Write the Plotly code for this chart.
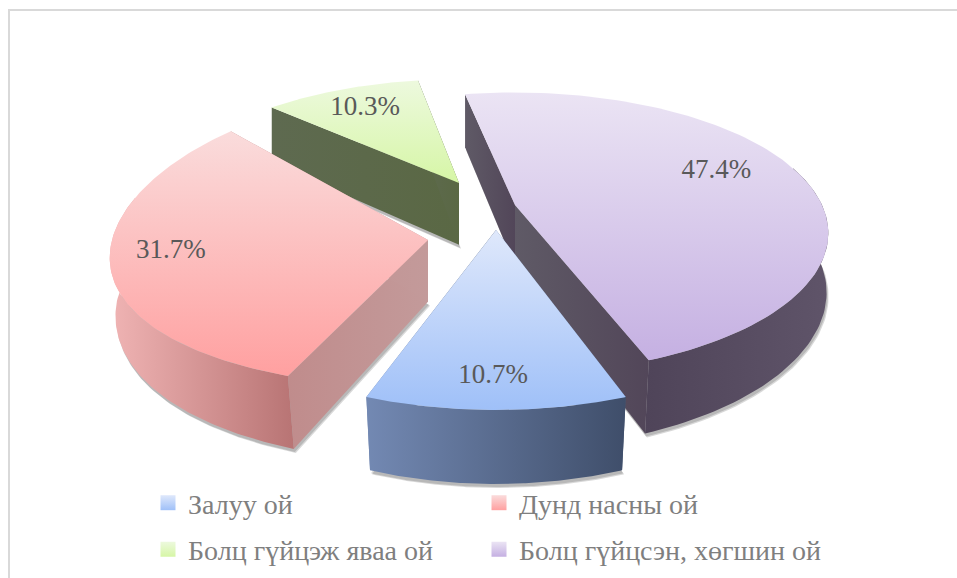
import numpy as np
import plotly.graph_objects as go

categories = ["Залуу ой", "Дунд насны ой", "Болц гүйцэж яваа ой", "Болц гүйцсэн, хөгшин ой"]
values = [10.7, 31.7, 10.3, 47.4]
labels = ["10.7%", "31.7%", "10.3%", "47.4%"]

W, H = 957, 578
START = 160.75
# view of each exploded slice: apex x, apex y, a, b, k (y perspective), kx (x perspective), rotation, wall x-scale
views = [(496, 230, 307, 138, 0.233, 0.233, 0, 1.0), (428, 240, 316, 148, 0.0, 0.12, 4, 0.985),
         (459, 183, 298, 128, 0.233, 0.233, 0, 1.0), (515, 205, 307, 135, 0.2, 0.2, -1.5, 1.0)]
D0, KD, SHRINK = 61.7, 0.167, 0.03
top_grad = [("#dfe8fb", "#9fc0f8"), ("#fadcdc", "#ffa0a0"), ("#edf9de", "#d6f6a6"), ("#ebe4f4", "#c5b0e2")]
wall_grad = [("#7389b3", "#3f4e6a"), ("#f0b4b4", "#b87474"), ("#5e6a50", "#5a6844"), ("#4f4459", "#5f5469")]
cut_grad = [("#6f86b0", "#46566f"), ("#c08c8c", "#c39a9a"), ("#5e6a50", "#5a6844"), ("#5f5a66", "#524659")]
label_pos = [(0.85, 0.5), (0.81, 4.5), (0.77, 0), (0.74, -5)]  # radius, angle shift


def proj(v, X, Y, depth=False):
    px, py, a, b, k, kx, _, ws = v
    X, Y = np.asarray(X, float), np.asarray(Y, float)
    sx, sy = a * X / (1 + kx * Y), -b * Y / (1 + k * Y)
    if depth:
        return px + sx * ws * (1 + SHRINK * np.minimum(Y, 0)), py + sy + D0 / (1 + KD * Y)
    return px + sx, py + sy


def poly(fig, x, y, c0, c1, kind):
    scale = [[0, c0], [1, c1]] if kind == "horizontal" else [[0, c1], [1, c0]]
    fig.add_trace(go.Scatter(
        x=list(x), y=list(y), mode="lines", fill="toself", line=dict(width=0),
        fillgradient=dict(type=kind, colorscale=scale),
        hoverinfo="skip", showlegend=False))


def shadow(fig, x, y, dx, dy, alpha):
    fig.add_trace(go.Scatter(
        x=list(np.asarray(x) + dx), y=list(np.asarray(y) + dy), mode="lines", fill="toself",
        line=dict(width=0), fillcolor=f"rgba(40,40,40,{alpha})", hoverinfo="skip", showlegend=False))


fig = go.Figure()
total = sum(values)
angs = START + 360 * np.concatenate([[0], np.cumsum(values)]) / total
order = [2, 1, 3, 0]
for i in order:
    v = views[i]
    t = np.radians(np.linspace(angs[i] + v[6], angs[i + 1] + v[6], 120))
    wx, wy = np.sin(t), np.cos(t)
    ax, ay = proj(v, 0, 0)
    bax, bay = proj(v, 0, 0, True)
    tx, ty = proj(v, wx, wy)
    bx, by = proj(v, wx, wy, True)
    sx = np.concatenate([[bax], bx])
    sy = np.concatenate([[bay], by])
    shadow(fig, sx, sy, 1, 3, 0.18)
    shadow(fig, sx, sy, 2, 4, 0.18)
    poly(fig, [ax, tx[0], bx[0], bax], [ay, ty[0], by[0], bay], *cut_grad[i], "horizontal")
    poly(fig, [ax, tx[-1], bx[-1], bax], [ay, ty[-1], by[-1], bay], *cut_grad[i], "horizontal")
    front = wy < 0.3  # only the part of the rim that faces the viewer
    if front.any():
        poly(fig, np.concatenate([tx[front], bx[front][::-1]]), np.concatenate([ty[front], by[front][::-1]]),
             *wall_grad[i], "horizontal")
    poly(fig, np.concatenate([[ax], tx]), np.concatenate([[ay], ty]), *top_grad[i], "vertical")

lx, ly = [], []
for i in range(4):
    r, sh = label_pos[i]
    m = np.radians((angs[i] + angs[i + 1]) / 2 + views[i][6] + sh)
    x, y = proj(views[i], r * np.sin(m), r * np.cos(m))
    lx.append(float(x)); ly.append(float(y))
fig.add_trace(go.Scatter(x=lx, y=ly, mode="text", text=labels, hoverinfo="skip", showlegend=False,
                         textfont=dict(family="Liberation Serif", size=27, color="#595959")))

leg_pos = [(148, 503), (479, 503), (148, 549.5), (479, 549.5)]
layout_leg = {}
for i, name in enumerate(categories):
    key = "legend" if i == 0 else f"legend{i + 1}"
    fig.add_trace(go.Scatter(x=[None], y=[None], mode="markers", name=name, legend=key,
                             marker=dict(symbol="square", size=15, color=top_grad[i][0],
                                         gradient=dict(type="vertical", color=top_grad[i][1]))))
    layout_leg[key] = dict(x=leg_pos[i][0] / W, y=1 - leg_pos[i][1] / H, xanchor="left", yanchor="middle",
                           bgcolor="rgba(0,0,0,0)", font=dict(family="Liberation Serif", size=28, color="#7f7f7f"))

fig.add_shape(type="path", path=f"M 9 {H} L 9 10 L {W} 10", line=dict(color="#d9d9d9", width=2), layer="below")

fig.update_layout(width=W, height=H, margin=dict(l=0, r=0, t=0, b=0), paper_bgcolor="white", plot_bgcolor="white",
                  xaxis=dict(range=[0, W], visible=False, fixedrange=True),
                  yaxis=dict(range=[H, 0], visible=False, fixedrange=True), **layout_leg)
fig.write_html("out.html", config=dict(displayModeBar=False),
               post_script="document.body.style.margin='0';document.body.style.overflow='hidden';")
